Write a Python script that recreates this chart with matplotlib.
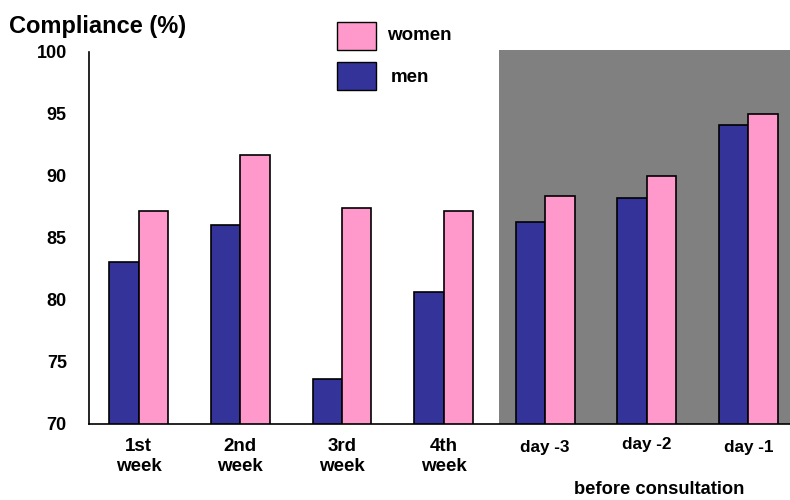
import matplotlib
matplotlib.use("Agg")
import matplotlib.pyplot as plt
import numpy as np
from matplotlib.patches import Rectangle

plt.rcParams['font.family'] = ['Liberation Sans', 'DejaVu Sans']
plt.rcParams['font.weight'] = 'bold'

categories = ["1st\nweek", "2nd\nweek", "3rd\nweek", "4th\nweek", "day -3", "day -2", "day -1"]
men = [83.1, 86.05, 73.6, 80.65, 86.3, 88.2, 94.1]
women = [87.2, 91.7, 87.45, 87.2, 88.35, 90.0, 95.0]
yticks = [70, 75, 80, 85, 90, 95, 100]

NAVY = "#333399"
PINK = "#FF99CC"

fig = plt.figure(figsize=(7.9, 5.0), dpi=100)
ax = fig.add_axes([0.1127, 0.152, 0.8873, 0.744])

x = np.arange(len(categories))
w = 0.29
ax.bar(x - w / 2, men, width=w, color=NAVY, edgecolor="black", linewidth=1.2, zorder=3)
ax.bar(x + w / 2, women, width=w, color=PINK, edgecolor="black", linewidth=1.2, zorder=3)

ax.set_xlim(-0.49, 6.41)
ax.set_ylim(70, 100)

# shaded block for the days before consultation
ax.add_patch(Rectangle((3.55, 70), 3.0, 30.15, facecolor="#808080", edgecolor="none",
                       zorder=1, clip_on=False))

ax.spines['top'].set_visible(False)
ax.spines['right'].set_visible(False)
ax.spines['left'].set_linewidth(1.2)
ax.spines['bottom'].set_linewidth(1.2)
ax.spines['bottom'].set_zorder(4)

ax.set_yticks(yticks)
ax.set_yticklabels([str(t) for t in yticks], fontsize=13, fontweight='bold')
ax.tick_params(axis='y', length=0, pad=16)
ax.set_xticks([])

for i, lab in enumerate(categories):
    if "week" in lab:
        ax.text(i, 68.9, lab, ha='center', va='top', fontsize=13.5, fontweight='bold',
                linespacing=1.25)
    else:
        yoff = 68.95 if lab == "day -2" else 68.7
        ax.text(i, yoff, lab, ha='center', va='top', fontsize=12.3, fontweight='bold')

ax.text(5.12, 64.7, "before consultation", ha='center', va='center', fontsize=13.2,
        fontweight='bold')

fig.text(0.012, 0.946, "Compliance (%)", ha='left', va='center', fontsize=17, fontweight='bold')

# legend boxes
fig.patches.append(Rectangle((337 / 790, 1 - 50 / 500), 39 / 790, 28 / 500, facecolor=PINK,
                             edgecolor="black", linewidth=1, transform=fig.transFigure))
fig.patches.append(Rectangle((337 / 790, 1 - 90 / 500), 39 / 790, 28 / 500, facecolor=NAVY,
                             edgecolor="black", linewidth=1, transform=fig.transFigure))
fig.text(387 / 790, 1 - 36 / 500, "women", ha='left', va='center', fontsize=13.5, fontweight='bold')
fig.text(391 / 790, 1 - 78 / 500, "men", ha='left', va='center', fontsize=13.5, fontweight='bold')

fig.savefig("out.png", dpi=100, facecolor="white")
